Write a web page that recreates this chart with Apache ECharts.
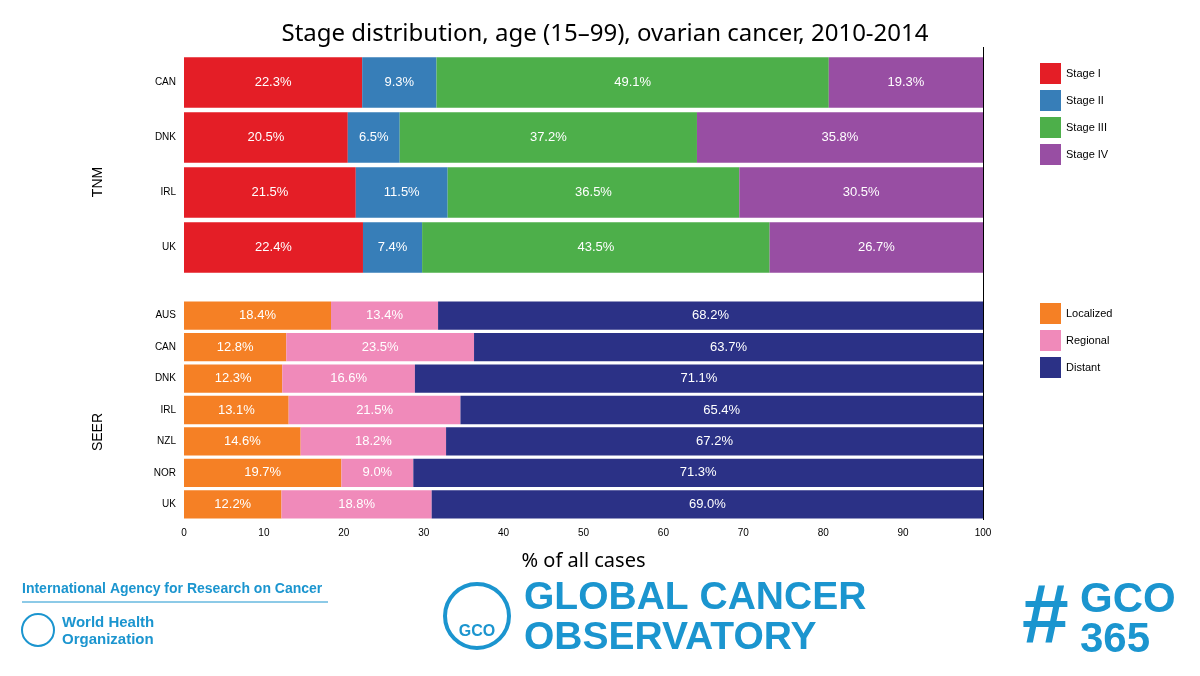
<!DOCTYPE html><html><head><meta charset="utf-8">
<script src="https://cdn.jsdelivr.net/npm/echarts@6/dist/echarts.min.js"></script>
<style>html,body{margin:0;background:#fff}#c{width:1200px;height:676px}</style></head><body><div id="c"></div>
<script>
const tnmCats=['CAN','DNK','IRL','UK'];
const stageI=[22.3,20.5,21.5,22.4];
const stageII=[9.3,6.5,11.5,7.4];
const stageIII=[49.1,37.2,36.5,43.5];
const stageIV=[19.3,35.8,30.5,26.7];
const seerCats=['AUS','CAN','DNK','IRL','NZL','NOR','UK'];
const localized=[18.4,12.8,12.3,13.1,14.6,19.7,12.2];
const regional=[13.4,23.5,16.6,21.5,18.2,9.0,18.8];
const distant=[68.2,63.7,71.1,65.4,67.2,71.3,69.0];
const xTicks=[0,10,20,30,40,50,60,70,80,90,100];

const blue='#1b95cf';
function ser(name,data,color,idx,gap){
  return {name,type:'bar',stack:'s'+idx,xAxisIndex:idx,yAxisIndex:idx,data,barCategoryGap:gap,
    itemStyle:{color},label:{show:true,color:'#fff',fontSize:13,fontFamily:'Liberation Sans',formatter:p=>p.value.toFixed(1)+'%'}};
}
const ch=echarts.init(document.getElementById('c'));
const yBase={type:'category',inverse:true,axisTick:{show:false},axisLine:{show:false},axisLabel:{fontSize:10,color:'#000',fontFamily:'Liberation Sans',margin:8}};
const lt={fontSize:11,color:'#000',fontFamily:'Liberation Sans'};
ch.setOption({
  animation:false,
  title:{text:'Stage distribution, age (15–99), ovarian cancer, 2010-2014',left:600,textAlign:'center',top:17,textStyle:{fontSize:24,fontWeight:'normal',color:'#000',fontFamily:'Noto Sans'}},
  grid:[{left:184,width:799,top:55,height:220},{left:184,width:799,top:300,height:220}],
  xAxis:[
    {gridIndex:0,min:0,max:100,show:false},
    {gridIndex:1,min:0,max:100,interval:10,axisLine:{lineStyle:{color:'#000'}},axisTick:{lineStyle:{color:'#000'}},splitLine:{show:false},
     axisLabel:{fontSize:10,color:'#000',fontFamily:'Liberation Sans',formatter:v=>xTicks.includes(v)?String(v):''},
     name:'% of all cases',nameLocation:'middle',nameGap:31,nameTextStyle:{fontSize:20,color:'#000',fontFamily:'Noto Sans'}}
  ],
  yAxis:[Object.assign({gridIndex:0,data:tnmCats},yBase),Object.assign({gridIndex:1,data:seerCats},yBase)],
  legend:[
    {data:['Stage I','Stage II','Stage III','Stage IV'],orient:'vertical',left:1035,top:58,itemWidth:21,itemHeight:21,itemGap:6,icon:'rect',textStyle:lt},
    {data:['Localized','Regional','Distant'],orient:'vertical',left:1035,top:298,itemWidth:21,itemHeight:21,itemGap:6,icon:'rect',textStyle:lt}
  ],
  series:[
    ser('Stage I',stageI,'#e41e26',0,'8%'),ser('Stage II',stageII,'#377eb8',0,'8%'),
    ser('Stage III',stageIII,'#4daf4a',0,'8%'),ser('Stage IV',stageIV,'#984ea3',0,'8%'),
    ser('Localized',localized,'#f58025',1,'10%'),ser('Regional',regional,'#f08aba',1,'10%'),
    ser('Distant',distant,'#2b3186',1,'10%')
  ],
  graphic:[
    {type:'line',shape:{x1:983.5,y1:47,x2:983.5,y2:520},style:{stroke:'#000',lineWidth:1}},
    {type:'text',x:98,y:182,rotation:Math.PI/2,style:{text:'TNM',fontSize:14,fill:'#000',fontFamily:'Liberation Sans',align:'center',verticalAlign:'middle'}},
    {type:'text',x:98,y:432,rotation:Math.PI/2,style:{text:'SEER',fontSize:14,fill:'#000',fontFamily:'Liberation Sans',align:'center',verticalAlign:'middle'}},
    {type:'text',x:22,y:582,style:{text:'International Agency for Research on Cancer',fontSize:14,fontWeight:'bold',fill:blue,fontFamily:'Liberation Sans'}},
    {type:'line',shape:{x1:22,y1:602,x2:328,y2:602},style:{stroke:blue,lineWidth:1}},
    {type:'circle',shape:{cx:38,cy:630,r:16},style:{fill:'none',stroke:blue,lineWidth:2}},
    {type:'text',x:62,y:614,style:{text:'World Health\nOrganization',fontSize:15,fontWeight:'bold',fill:blue,lineHeight:17,fontFamily:'Liberation Sans'}},
    {type:'circle',shape:{cx:477,cy:616,r:32},style:{fill:'none',stroke:blue,lineWidth:4}},
    {type:'text',x:477,y:632,style:{text:'GCO',fontSize:16,fontWeight:'bold',fill:blue,align:'center',verticalAlign:'middle',fontFamily:'Liberation Sans'}},
    {type:'text',x:524,y:578,style:{text:'GLOBAL CANCER\nOBSERVATORY',fontSize:39,fontWeight:'bold',fill:blue,lineHeight:40,fontFamily:'Liberation Sans'}},
    {type:'text',x:1022,y:578,style:{text:'#',fontSize:84,fontWeight:'bold',fill:blue,fontFamily:'Liberation Sans'}},
    {type:'text',x:1080,y:580,style:{text:'GCO\n365',fontSize:42,fontWeight:'bold',fill:blue,lineHeight:40,fontFamily:'Liberation Sans'}}
  ]
});
</script></body></html>
